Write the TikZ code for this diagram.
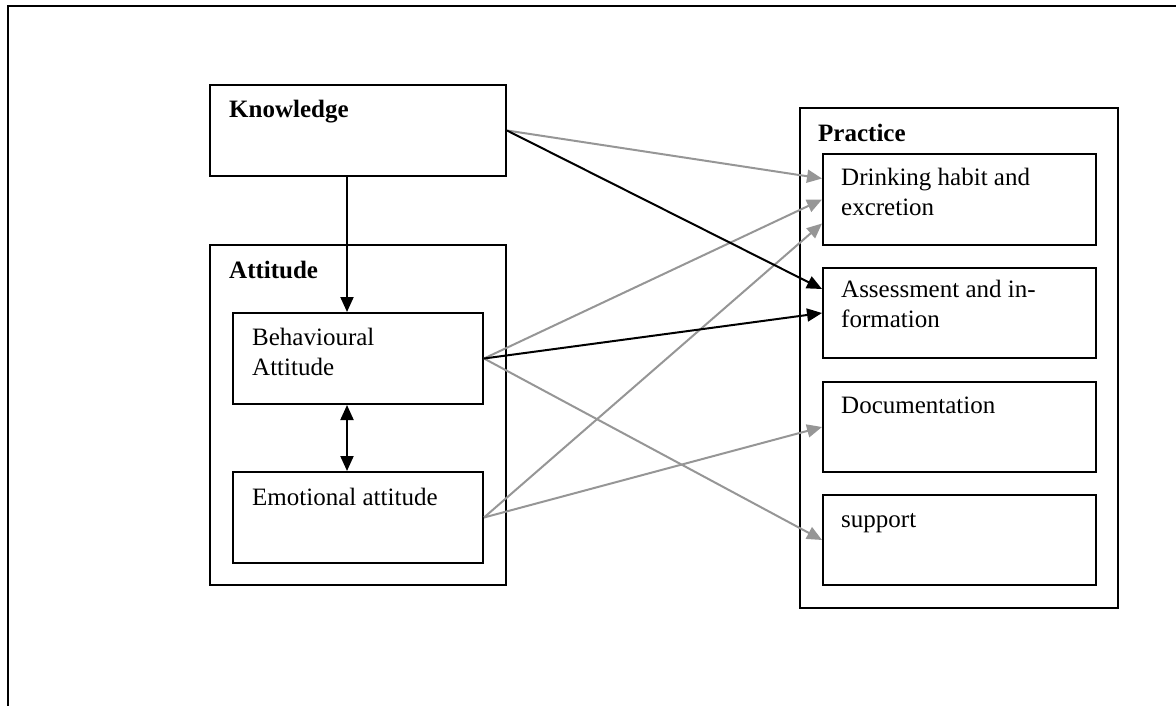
\documentclass[tikz,border=0pt]{standalone}
\usepackage{fontspec}
\setmainfont{Liberation Serif}
\usetikzlibrary{arrows.meta,calc}
\definecolor{linkgray}{RGB}{150,150,150}
\tikzset{
  box/.style={draw=black, line width=2pt, inner sep=0pt, anchor=north west},
  txt/.style={inner sep=0pt, anchor=base west, align=left,
    font=\fontsize{25}{30}\selectfont},
  head/.style={txt, font=\fontsize{25}{30}\selectfont\bfseries},
  tip/.style={-{Triangle[length=15pt,width=13pt]}},
  darklink/.style={line width=2pt, draw=black, tip},
  greylink/.style={line width=2pt, draw=linkgray,
    -{Triangle[length=15pt,width=13pt,fill=linkgray]}},
}
\begin{document}
\begin{tikzpicture}[x=1pt, y=-1pt]
\useasboundingbox (0,0) rectangle (1176,706);
% page frame (top and left edges)
\draw[line width=2pt] (1176,6) -- (8,6) -- (8,706);

% left column
\node[box, minimum width=296pt, minimum height=91pt] (know) at (209,84) {};
\node[head] (knowtxt) at (229,118) {Knowledge};

\node[box, minimum width=296pt, minimum height=340pt] (att) at (209,244) {};
\node[head] (atttxt) at (229,278) {Attitude};
\node[box, minimum width=250pt, minimum height=91pt] (behav) at (232,312) {};
% multi-line labels are placed by the baseline of their last line
\node[txt] (behavtxt) at (252,375) {Behavioural\\Attitude};
\node[box, minimum width=250pt, minimum height=91pt] (emot) at (232,471) {};
\node[txt] (emottxt) at (252,505) {Emotional attitude};

% right column
\node[box, minimum width=318pt, minimum height=500pt] (prac) at (799,107) {};
\node[head] (practxt) at (818,142) {Practice};
\node[box, minimum width=273pt, minimum height=91pt] (drink) at (822,153) {};
\node[txt] (drinktxt) at (841,215) {Drinking habit and\\excretion};
\node[box, minimum width=273pt, minimum height=90pt] (assess) at (822,267) {};
\node[txt] (assesstxt) at (841,327) {Assessment and in-\\formation};
\node[box, minimum width=273pt, minimum height=90pt] (doc) at (822,381) {};
\node[txt] (doctxt) at (841,413) {Documentation};
\node[box, minimum width=273pt, minimum height=90pt] (supp) at (822,494) {};
\node[txt] (supptxt) at (841,527) {support};

% connectors inside the left column
\draw[darklink] ($(know.south)+(-11,0)$) -- ($(behav.north)+(-11,0)$);
\draw[line width=2pt, {Triangle[length=15pt,width=13pt]}-{Triangle[length=15pt,width=13pt]}]
  ($(behav.south)+(-11,0)$) -- ($(emot.north)+(-11,0)$);

% grey links towards practice
\draw[greylink] (know.east) -- ($(drink.west)+(0,-21)$);
\draw[greylink] (behav.east) -- (drink.west);
\draw[greylink] (emot.east) -- ($(drink.west)+(0,24)$);
\draw[greylink] (behav.east) -- (supp.west);
\draw[greylink] (emot.east) -- (doc.west);

% black links towards assessment
\draw[darklink] (know.east) -- ($(assess.west)+(0,-24)$);
\draw[darklink] (behav.east) -- (assess.west);
\end{tikzpicture}
\end{document}
